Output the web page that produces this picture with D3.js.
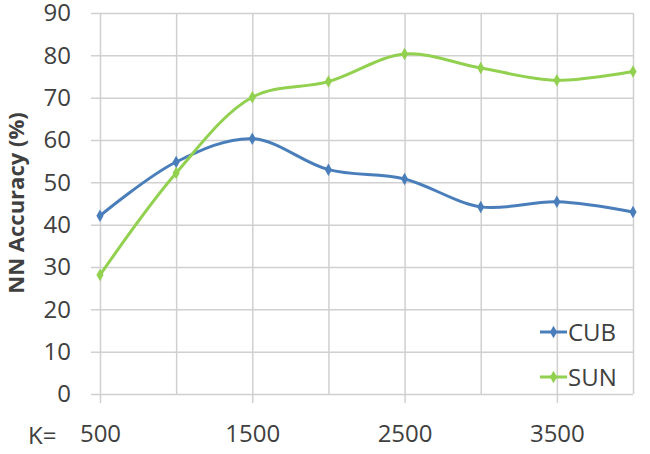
<!DOCTYPE html>
<html>
<head>
<meta charset="utf-8">
<script src="https://cdn.jsdelivr.net/npm/d3@7"></script>
<style>
  body { margin: 0; background: #fff; }
  text { font-family: "Open Sans", sans-serif; fill: #404040; }
</style>
</head>
<body>
<div id="chart-area"></div>
<script>
var kValues = [500, 1000, 1500, 2000, 2500, 3000, 3500, 4000];
var cubValues = [42.1, 54.8, 60.3, 53, 50.8, 44.2, 45.4, 43];
var sunValues = [28.1, 52.2, 70.1, 73.8, 80.3, 77, 74.1, 76.2];
var xTickLabels = [500, 1500, 2500, 3500];
var yTicks = [0, 10, 20, 30, 40, 50, 60, 70, 80, 90];

var series = [
    { name: "CUB", values: cubValues, color: "#4a7ebb" },
    { name: "SUN", values: sunValues, color: "#92d050" }
];

var svg = d3.select("#chart-area")
    .append("svg")
        .attr("width", 650)
        .attr("height", 454);

// X scale
var x = d3.scaleLinear()
    .domain([500, 4000])
    .range([100, 633]);

// Y scale
var y = d3.scaleLinear()
    .domain([0, 90])
    .range([394, 13]);

// Horizontal gridlines + y labels
var yAxisCall = d3.axisLeft(y)
    .tickValues(yTicks)
    .tickSize(-(633 - 91))
    .tickPadding(20);
var yAxis = svg.append("g")
    .attr("class", "y axis")
    .attr("transform", "translate(91,0)")
    .call(yAxisCall);
yAxis.select(".domain").remove();
yAxis.selectAll("line").attr("stroke", "#d0d0d0").attr("stroke-width", 1.5);
yAxis.selectAll("text").attr("font-size", "24px").attr("fill", "#404040").attr("font-family", "Open Sans");

// Vertical gridlines
var xGridCall = d3.axisBottom(x)
    .tickValues(kValues)
    .tickSize(-(394 - 13))
    .tickFormat("");
var xGrid = svg.append("g")
    .attr("class", "x grid")
    .attr("transform", "translate(0,394)")
    .call(xGridCall);
xGrid.select(".domain").remove();
xGrid.selectAll("line").attr("stroke", "#d0d0d0").attr("stroke-width", 1.5);

// X labels with little ticks below
var xAxisCall = d3.axisBottom(x)
    .tickValues(xTickLabels)
    .tickSize(9)
    .tickPadding(22)
    .tickFormat(d3.format("d"));
var xAxis = svg.append("g")
    .attr("class", "x axis")
    .attr("transform", "translate(0,394)")
    .call(xAxisCall);
xAxis.select(".domain").remove();
xAxis.selectAll("line").attr("stroke", "#d0d0d0").attr("stroke-width", 1.5);
xAxis.selectAll("text").attr("font-size", "24px").attr("fill", "#404040").attr("font-family", "Open Sans");

// K= label
svg.append("text")
    .attr("x", 28)
    .attr("y", 444)
    .attr("font-size", "24px")
    .text("K=");

// Y label
svg.append("text")
    .attr("transform", "translate(24,203) rotate(-90)")
    .attr("text-anchor", "middle")
    .attr("font-size", "22px")
    .attr("font-weight", "bold")
    .text("NN Accuracy (%)");

// Lines
var line = d3.line()
    .x(function(d, i){ return x(kValues[i]); })
    .y(function(d){ return y(d); })
    .curve(d3.curveCatmullRom.alpha(0.5));

var diamond = d3.symbol().type(d3.symbolDiamond).size(45);

series.forEach(function(s) {
    svg.append("path")
        .attr("d", line(s.values))
        .attr("fill", "none")
        .attr("stroke", s.color)
        .attr("stroke-width", 3);

    svg.selectAll(".pt-" + s.name)
        .data(s.values)
        .enter()
        .append("path")
            .attr("class", "pt-" + s.name)
            .attr("d", diamond)
            .attr("transform", function(d, i){ return "translate(" + x(kValues[i]) + "," + y(d) + ")"; })
            .attr("fill", s.color);
});

// Legend
var legend = svg.selectAll(".legend")
    .data(series)
    .enter()
    .append("g")
        .attr("class", "legend")
        .attr("transform", function(d, i){ return "translate(540," + (332 + i * 45) + ")"; });

legend.append("line")
    .attr("x1", 0).attr("x2", 27)
    .attr("stroke", function(d){ return d.color; })
    .attr("stroke-width", 3);
legend.append("path")
    .attr("d", diamond)
    .attr("transform", "translate(13.5,0)")
    .attr("fill", function(d){ return d.color; });
legend.append("text")
    .attr("x", 28)
    .attr("dy", "0.36em")
    .attr("font-size", "24px")
    .text(function(d){ return d.name; });
</script>
</body>
</html>
